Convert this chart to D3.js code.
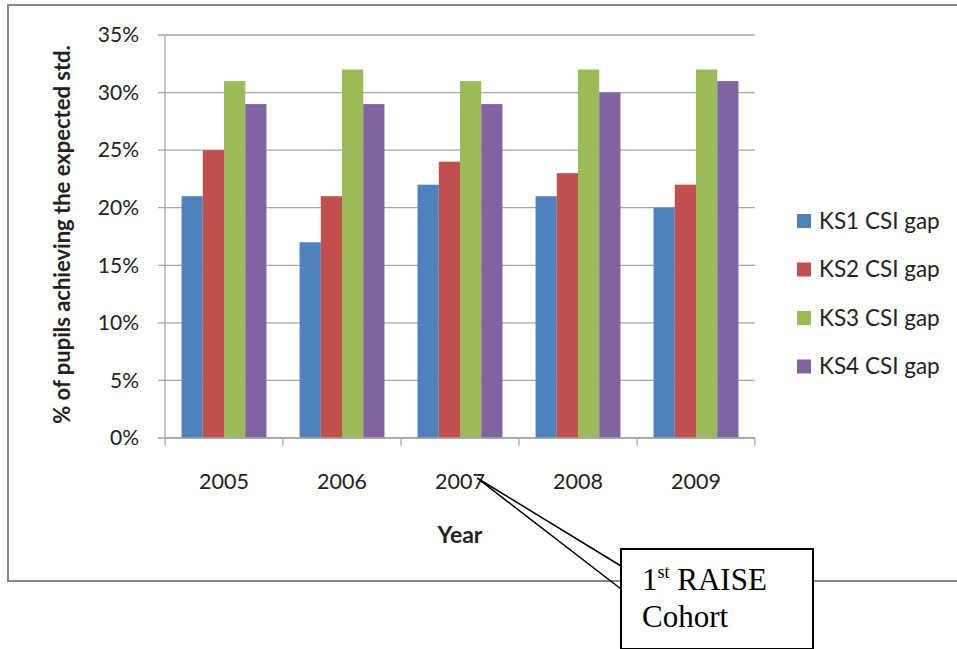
<!DOCTYPE html>
<html>
<head>
<meta charset="utf-8">
<script src="https://cdn.jsdelivr.net/npm/d3@7"></script>
<style>
  body { margin: 0; background: #fff; }
  svg text { font-family: Lato, "Open Sans", sans-serif; fill: #222; }
</style>
</head>
<body>
<svg id="chart" width="957" height="649"></svg>
<script>
// data
const years = ["2005", "2006", "2007", "2008", "2009"];
const seriesNames = ["KS1 CSI gap", "KS2 CSI gap", "KS3 CSI gap", "KS4 CSI gap"];
const ks1 = [21, 17, 22, 21, 20];
const ks2 = [25, 21, 24, 23, 22];
const ks3 = [31, 32, 31, 32, 32];
const ks4 = [29, 29, 29, 30, 31];
const yTicks = [0, 5, 10, 15, 20, 25, 30, 35];
const colors = ["#4f81bd", "#c0504d", "#9bbb59", "#8064a2"];

const seriesValues = [ks1, ks2, ks3, ks4];

const svg = d3.select('#chart');

// outer chart frame (runs off the right side)
svg.append('rect')
  .attr('x', 8).attr('y', 5)
  .attr('width', 1000).attr('height', 576)
  .attr('fill', 'none')
  .attr('stroke', '#888')
  .attr('stroke-width', 2);

const margin = {top: 35, left: 165, right: 755, bottom: 438};

const x = d3.scaleBand()
  .domain(years)
  .range([margin.left, margin.right]);

const xInner = d3.scaleBand()
  .domain(seriesNames)
  .range([0, x.bandwidth()])
  .paddingOuter(0.78)
  .paddingInner(0);

const y = d3.scaleLinear()
  .domain([0, 35])
  .range([margin.bottom, margin.top]);

// gridlines
svg.append('g')
  .selectAll('line')
  .data(yTicks)
  .enter()
  .append('line')
    .attr('x1', margin.left - 7)
    .attr('x2', margin.right)
    .attr('y1', d => y(d))
    .attr('y2', d => y(d))
    .attr('stroke', '#a6a6a6')
    .attr('stroke-width', 1.3);

// bars
let groups = svg.append('g')
  .selectAll('g')
  .data(years)
  .enter()
  .append('g')
    .attr('transform', d => 'translate(' + x(d) + ',0)');

groups.selectAll('rect')
  .data((d, i) => seriesNames.map((s, j) => ({name: s, value: seriesValues[j][i], j: j})))
  .enter()
  .append('rect')
    .attr('x', d => xInner(d.name))
    .attr('width', xInner.bandwidth())
    .attr('y', d => y(d.value))
    .attr('height', d => y(0) - y(d.value))
    .attr('fill', d => colors[d.j]);

// y axis line
svg.append('line')
  .attr('x1', margin.left).attr('x2', margin.left)
  .attr('y1', margin.top).attr('y2', margin.bottom)
  .attr('stroke', '#a6a6a6').attr('stroke-width', 1.3);

// x axis line and tick marks
const xTickPos = years.map(d => x(d)).concat([margin.right]);
svg.append('line')
  .attr('x1', margin.left).attr('x2', margin.right)
  .attr('y1', margin.bottom).attr('y2', margin.bottom)
  .attr('stroke', '#a6a6a6').attr('stroke-width', 1.3);
svg.append('g')
  .selectAll('line')
  .data(xTickPos)
  .enter()
  .append('line')
    .attr('x1', d => d).attr('x2', d => d)
    .attr('y1', margin.bottom).attr('y2', margin.bottom + 8)
    .attr('stroke', '#a6a6a6').attr('stroke-width', 1.3);

// tick labels
svg.append('g')
  .selectAll('text')
  .data(yTicks)
  .enter()
  .append('text')
    .attr('x', 139)
    .attr('y', d => y(d))
    .attr('dy', '.35em')
    .attr('text-anchor', 'end')
    .attr('font-size', 21)
    .text(d => d + '%');

svg.append('g')
  .selectAll('text')
  .data(years)
  .enter()
  .append('text')
    .attr('x', d => x(d) + x.bandwidth() / 2)
    .attr('y', 481)
    .attr('dy', '.35em')
    .attr('text-anchor', 'middle')
    .attr('font-size', 21.5)
    .text(d => d);

// axis titles
svg.append('text')
  .attr('transform', 'translate(70,' + ((margin.top + margin.bottom) / 2 - 2) + ') rotate(-90)')
  .attr('text-anchor', 'middle')
  .attr('font-size', 22)
  .attr('font-weight', 'bold')
  .text('% of pupils achieving the expected std.');

svg.append('text')
  .attr('x', 460).attr('y', 535)
  .attr('dy', '.35em')
  .attr('text-anchor', 'middle')
  .attr('font-size', 23)
  .attr('font-weight', 'bold')
  .text('Year');

// legend
let legend = svg.append('g')
  .selectAll('g')
  .data(seriesNames)
  .enter()
  .append('g')
    .attr('transform', (d, i) => 'translate(797,' + (221 + i * 48.5) + ')');
legend.append('rect')
  .attr('x', 0).attr('y', -7)
  .attr('width', 14).attr('height', 14)
  .attr('fill', (d, i) => colors[i]);
legend.append('text')
  .attr('x', 22).attr('y', 0)
  .attr('dy', '.35em')
  .attr('font-size', 22.5)
  .text(d => d);

// callout pointing at 2007
const tip = [477, 478];
svg.append('path')
  .attr('d', 'M621,566 L' + tip[0] + ',' + tip[1] + ' L621,589')
  .attr('fill', 'none')
  .attr('stroke', '#000')
  .attr('stroke-width', 1.5);
svg.append('rect')
  .attr('x', 621).attr('y', 549)
  .attr('width', 192).attr('height', 100)
  .attr('fill', '#fff')
  .attr('stroke', '#000')
  .attr('stroke-width', 2);

let callText = svg.append('text')
  .attr('x', 642).attr('y', 590)
  .attr('font-size', 31)
  .style('font-family', '"Liberation Serif", serif')
  .style('fill', '#000');
callText.append('tspan').text('1');
callText.append('tspan').attr('dy', -12).attr('font-size', 18).text('st');
callText.append('tspan').attr('dy', 12).text(' RAISE');
svg.append('text')
  .attr('x', 642).attr('y', 627)
  .attr('font-size', 31)
  .style('font-family', '"Liberation Serif", serif')
  .style('fill', '#000')
  .text('Cohort');
</script>
</body>
</html>
